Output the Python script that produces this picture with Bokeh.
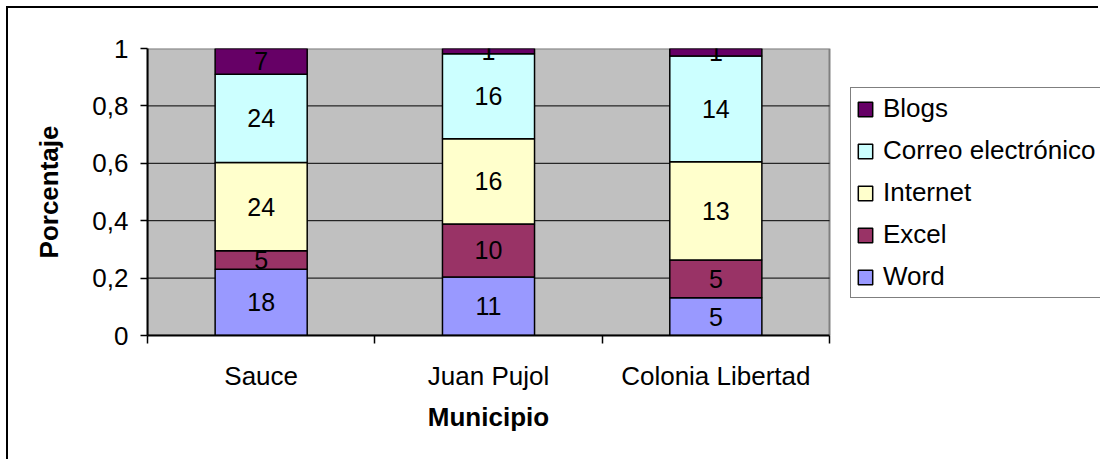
from bokeh.plotting import figure
from bokeh.models import FixedTicker, Legend, LegendItem, Range1d, ColumnDataSource, Title
from bokeh.embed import file_html
from bokeh.resources import INLINE
from bokeh.core.properties import value

municipios = ["Sauce", "Juan Pujol", "Colonia Libertad"]
series = ["Word", "Excel", "Internet", "Correo electrónico", "Blogs"]
word = [18, 11, 5]
excel = [5, 10, 5]
internet = [24, 16, 13]
correo = [24, 16, 14]
blogs = [7, 1, 1]
y_ticks = [0, 0.2, 0.4, 0.6, 0.8, 1]
y_tick_labels = ["0", "0,2", "0,4", "0,6", "0,8", "1"]
colors = ["#9999FF", "#993366", "#FFFFCC", "#CCFFFF", "#660066"]

FONT = "Liberation Sans"
FS = "26px"
FS_BAR = "25px"

# layout (pixels)
W, H = 1092, 453
LEFT, TOP, BOTTOM = 139, 40, 126
PLOT_W = 682          # width of the grey plot area
FRAME_W = W - LEFT    # frame extends to the right edge to host the legend

counts = [word, excel, internet, correo, blogs]
n = len(municipios)
totals = [sum(c[i] for c in counts) for i in range(n)]
xs = [i + 0.5 for i in range(n)]
data = {"x": xs}
for name, c in zip(series, counts):
    data[name] = [c[i] / totals[i] for i in range(n)]
src = ColumnDataSource(data)

x_end = n * FRAME_W / PLOT_W
p = figure(width=W, height=H, x_range=Range1d(0, x_end), y_range=Range1d(0, 1),
           output_backend="svg", toolbar_location=None,
           min_border_left=LEFT, min_border_right=0, min_border_top=TOP, min_border_bottom=BOTTOM)
p.margin = (6, 0, 0, 6)
p.styles = {"border-top": "2px solid black", "border-left": "2px solid black"}
p.background_fill_color = "white"
p.border_fill_color = "white"
p.outline_line_color = None

# grey plot area
p.quad(left=[0], right=[n], bottom=[y_ticks[0]], top=[y_ticks[-1]],
       fill_color="#C0C0C0", line_color="#808080", line_width=2)
# grid lines
inner = y_ticks[1:-1]
p.segment(x0=[0] * len(inner), x1=[n] * len(inner), y0=inner, y1=inner,
          line_color="black", line_width=1)

renderers = p.vbar_stack(series, x="x", width=0.405, fill_color=colors,
                         line_color="black", line_width=1.5, source=src)

lx, ly, lt = [], [], []
for i in range(n):
    cum = 0.0
    for c in counts:
        frac = c[i] / totals[i]
        lx.append(xs[i]); ly.append(cum + frac / 2); lt.append(str(c[i]))
        cum += frac
p.text(x=lx, y=ly, text=lt, text_align="center", text_baseline="middle",
       text_font=value(FONT), text_font_size=FS_BAR, text_color="black")

# x axis
xa = p.xaxis[0]
xa.bounds = (0, n)
xa.ticker = FixedTicker(ticks=xs, minor_ticks=list(range(n + 1)))
xa.major_label_overrides = {x: m for x, m in zip(xs, municipios)}
xa.major_tick_line_color = None
xa.major_tick_out = 0
xa.major_tick_in = 0
xa.minor_tick_out = 8
xa.minor_tick_in = 0
xa.minor_tick_line_color = "black"
xa.minor_tick_line_width = 1.5
xa.axis_line_color = "black"
xa.axis_line_width = 2
xa.major_label_standoff = 17
xa.major_label_text_font = FONT
xa.major_label_text_font_size = FS
xa.major_label_text_color = "black"

# x axis title, centred under the grey plot area
title_w = 4.667 * 26  # approx. width of the bold title text
xt = Title(text="Municipio", align="left", offset=PLOT_W / 2 - title_w / 2,
           text_font=FONT, text_font_size=FS, text_font_style="bold",
           text_color="black", standoff=12)
p.add_layout(xt, "below")

# y axis
ya = p.yaxis[0]
ya.ticker = FixedTicker(ticks=y_ticks)
ya.major_label_overrides = {t: l for t, l in zip(y_ticks, y_tick_labels)}
ya.major_tick_out = 7
ya.major_tick_in = 0
ya.major_tick_line_color = "black"
ya.major_tick_line_width = 1.5
ya.minor_tick_line_color = None
ya.axis_line_color = "black"
ya.axis_line_width = 2
ya.major_label_standoff = 12
ya.major_label_text_font = FONT
ya.major_label_text_font_size = FS
ya.major_label_text_color = "black"
ya.axis_label = "Porcentaje"
ya.axis_label_text_font = FONT
ya.axis_label_text_font_size = FS
ya.axis_label_text_font_style = "bold"
ya.axis_label_text_color = "black"
ya.axis_label_standoff = 25

p.xgrid.visible = False
p.ygrid.visible = False

items = [LegendItem(label=value(s), renderers=[r]) for s, r in reversed(list(zip(series, renderers)))]
legend = Legend(items=items, location=(703, 37), orientation="vertical",
                border_line_color="black", border_line_width=1.5,
                background_fill_color="white", background_fill_alpha=1,
                label_text_font=FONT, label_text_font_size=FS, label_text_color="black",
                glyph_width=18, glyph_height=18, label_height=30, spacing=11,
                padding=5, margin=0, label_standoff=9)
p.add_layout(legend)

open("out.html", "w").write(file_html(p, INLINE))
